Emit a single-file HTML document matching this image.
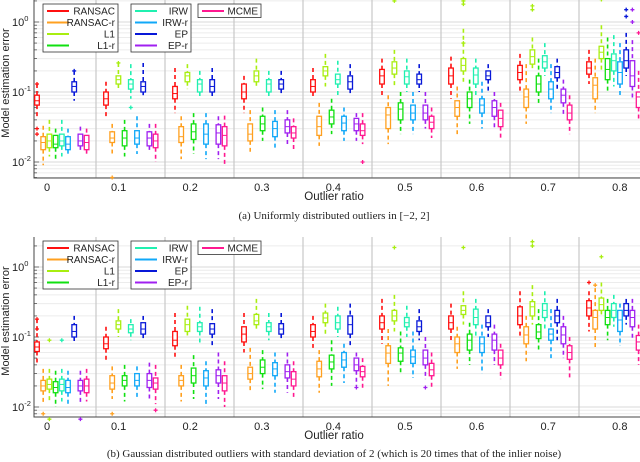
<!DOCTYPE html>
<html><head><meta charset="utf-8"><style>
body{margin:0;background:#fff}
svg{display:block;font-family:"Liberation Sans",sans-serif}
</style></head><body>
<svg id="c" width="640" height="462" viewBox="0 0 640 462"></svg>
<script>
const categories=["0","0.1","0.2","0.3","0.4","0.5","0.6","0.7","0.8"];
const methods=["RANSAC","RANSAC-r","L1","L1-r","IRW","IRW-r","EP","EP-r","MCME"];
const colors=["#ff1010","#ffa020","#a8ee10","#10e010","#20f0b0","#10a8f8","#0818d8","#a020f0","#ff1890"];
const yTicks=[0.01,0.1,1];
const yTickLabels=["10","10","10"];
const yTickExp=["-2","-1","0"];
// [median,q1,q3,whiskerLow,whiskerHigh] per group
const uniRANSAC=[[.075,.065,.09,.045,.13],[.08,.065,.1,.045,.14],[.095,.08,.12,.05,.22],[.1,.08,.13,.05,.17],[.12,.1,.15,.08,.22],[.17,.13,.21,.09,.3],[.17,.13,.22,.08,.32],[.19,.15,.24,.1,.35],[.22,.18,.27,.13,.4]];
const uniRANSACr=[[.019,.015,.023,.009,.033],[.022,.019,.027,.012,.035],[.023,.019,.032,.011,.045],[.025,.02,.035,.014,.055],[.032,.024,.045,.017,.07],[.047,.03,.06,.018,.09],[.06,.045,.075,.025,.12],[.085,.06,.11,.035,.25],[.125,.08,.16,.05,.3]];
const uniL1=[[.02,.016,.025,.012,.04],[.15,.13,.17,.11,.26],[.17,.14,.19,.11,.25],[.17,.14,.2,.12,.3],[.2,.17,.23,.12,.35],[.22,.18,.27,.12,.4],[.24,.2,.3,.14,.8],[.32,.25,.4,.2,.6],[.37,.3,.45,.2,.9]];
const uniL1r=[[.018,.016,.024,.011,.03],[.022,.017,.028,.012,.04],[.027,.021,.035,.013,.05],[.035,.028,.045,.02,.06],[.044,.035,.055,.025,.08],[.057,.04,.07,.025,.1],[.08,.06,.1,.035,.15],[.13,.1,.17,.07,.3],[.21,.15,.3,.1,.6]];
const uniIRW=[[.02,.017,.025,.012,.04],[.13,.11,.15,.08,.25],[.13,.1,.15,.08,.2],[.13,.1,.15,.08,.2],[.15,.13,.18,.09,.28],[.165,.13,.2,.1,.3],[.175,.13,.22,.09,.3],[.27,.22,.33,.17,.5],[.28,.2,.35,.12,.65]];
const uniIRWr=[[.018,.015,.023,.012,.03],[.022,.018,.028,.013,.045],[.025,.018,.035,.011,.05],[.03,.023,.038,.016,.055],[.036,.028,.045,.02,.06],[.05,.04,.065,.025,.1],[.065,.05,.08,.03,.14],[.11,.08,.14,.05,.25],[.19,.13,.27,.09,.5]];
const uniEP=[[.12,.1,.14,.075,.2],[.12,.1,.14,.09,.26],[.12,.1,.15,.08,.22],[.13,.11,.15,.09,.2],[.14,.11,.17,.09,.25],[.15,.13,.18,.1,.25],[.17,.15,.2,.1,.25],[.19,.16,.23,.11,.3],[.28,.22,.4,.17,.7]];
const uniEPr=[[.02,.017,.025,.014,.032],[.022,.017,.027,.014,.035],[.026,.018,.034,.011,.045],[.032,.026,.04,.017,.055],[.035,.028,.042,.02,.05],[.05,.04,.065,.03,.1],[.06,.045,.075,.03,.1],[.09,.07,.11,.045,.15],[.17,.12,.28,.08,.55]];
const uniMCME=[[.019,.015,.024,.012,.03],[.02,.016,.025,.01,.035],[.024,.017,.032,.009,.046],[.026,.022,.032,.015,.042],[.028,.024,.035,.018,.05],[.037,.03,.045,.022,.06],[.042,.032,.055,.022,.07],[.05,.04,.065,.025,.09],[.085,.06,.1,.04,.2]];
const uniOutliers=[[0,0,.13],[0,0,.03],[0,0,.025],[0,6,.2],[1,2,.26],[1,4,.06],[1,1,.006],[4,8,.01],[5,2,2.0],[6,2,2.0],[6,2,1.8],[6,2,.5],[7,2,2.2],[7,2,1.7],[7,2,1.5],[8,2,2.1],[8,6,1.5],[8,6,1.2],[8,7,1.5],[8,7,1.0],[8,8,.7]];

const gauRANSAC=[[.072,.062,.085,.04,.18],[.08,.068,.1,.045,.14],[.09,.075,.12,.05,.22],[.11,.085,.14,.06,.22],[.12,.1,.15,.07,.2],[.16,.13,.2,.08,.35],[.16,.13,.2,.09,.3],[.2,.15,.27,.1,.45],[.26,.2,.33,.12,.45]];
const gauRANSACr=[[.02,.017,.024,.011,.035],[.022,.018,.028,.013,.038],[.024,.02,.028,.012,.04],[.03,.025,.037,.016,.07],[.035,.027,.045,.016,.065],[.059,.042,.075,.02,.13],[.08,.06,.1,.035,.14],[.107,.08,.14,.045,.2],[.19,.13,.24,.07,.5]];
const gauL1=[[.021,.018,.025,.012,.035],[.15,.13,.17,.1,.25],[.15,.12,.18,.1,.28],[.17,.15,.21,.13,.35],[.187,.16,.22,.11,.3],[.2,.17,.24,.12,.4],[.24,.21,.28,.15,.45],[.27,.2,.32,.15,.55],[.29,.24,.36,.2,.6]];
const gauL1r=[[.019,.016,.023,.01,.033],[.024,.02,.028,.012,.04],[.028,.022,.036,.013,.055],[.037,.03,.047,.018,.065],[.044,.035,.055,.02,.09],[.059,.045,.07,.03,.12],[.09,.065,.11,.04,.16],[.118,.095,.15,.06,.25],[.19,.15,.24,.09,.35]];
const gauIRW=[[.021,.017,.025,.012,.035],[.13,.115,.15,.09,.18],[.14,.12,.16,.08,.27],[.14,.12,.16,.09,.22],[.16,.13,.2,.1,.27],[.16,.14,.19,.1,.28],[.19,.15,.25,.1,.35],[.24,.19,.3,.12,.45],[.24,.19,.3,.14,.4]];
const gauIRWr=[[.019,.016,.024,.011,.033],[.024,.02,.03,.013,.038],[.026,.02,.033,.01,.045],[.035,.028,.043,.016,.06],[.047,.037,.06,.022,.08],[.052,.042,.065,.026,.12],[.08,.06,.1,.03,.15],[.11,.09,.13,.05,.25],[.175,.12,.24,.075,.3]];
const gauEP=[[.12,.1,.15,.08,.2],[.13,.11,.16,.09,.2],[.13,.11,.155,.07,.25],[.13,.11,.155,.09,.22],[.15,.11,.2,.07,.3],[.14,.12,.17,.09,.25],[.16,.14,.2,.1,.25],[.2,.16,.24,.09,.35],[.24,.2,.3,.15,.35]];
const gauEPr=[[.02,.017,.024,.011,.033],[.024,.019,.03,.013,.043],[.028,.022,.034,.013,.06],[.032,.026,.04,.016,.06],[.04,.033,.05,.02,.06],[.05,.04,.065,.025,.1],[.09,.065,.11,.04,.15],[.107,.08,.14,.05,.2],[.19,.14,.24,.09,.35]];
const gauMCME=[[.02,.016,.025,.012,.035],[.022,.018,.026,.011,.04],[.022,.017,.028,.01,.045],[.025,.02,.032,.013,.045],[.032,.027,.038,.018,.05],[.034,.028,.042,.018,.06],[.05,.04,.065,.025,.08],[.06,.048,.075,.025,.1],[.085,.065,.105,.04,.15]];
const gauOutliers=[[0,0,.18],[0,0,.13],[0,2,.09],[0,4,.09],[0,1,.008],[0,2,.0067],[0,7,.0067],[1,1,.008],[1,8,.009],[5,2,1.9],[6,2,1.9],[7,2,2.3],[7,2,2.0],[8,0,.6],[8,1,.55],[8,2,1.4],[4,7,.019],[5,7,.019]];

const uniSeries=[uniRANSAC,uniRANSACr,uniL1,uniL1r,uniIRW,uniIRWr,uniEP,uniEPr,uniMCME];
const gauSeries=[gauRANSAC,gauRANSACr,gauL1,gauL1r,gauIRW,gauIRWr,gauEP,gauEPr,gauMCME];

const NS="http://www.w3.org/2000/svg";
const svg=document.getElementById('c');
function el(tag,attrs,parent,text){const e=document.createElementNS(NS,tag);for(const k in attrs)e.setAttribute(k,attrs[k]);if(text!==undefined)e.textContent=text;(parent||svg).appendChild(e);return e;}
const L=34,R=640,G0=27,GW=69,BOFF=10,BSP=6.2;
function xBox(g,m){return G0+g*GW+BOFF+m*BSP;}
function xLabel(g){return 47+g*71.6;}

function panel(name,top,bottom,y1,series,outliers,caption,capY,legendTop){
  const grp=el('g',{},svg);
  
  
  const dec=70;
  const y=v=>y1-Math.log10(v)*dec;
  for(let e=-3;e<=0;e++){for(let k=1;k<=9;k++){const v=k*Math.pow(10,e);const yy=y(v);if(yy<top||yy>bottom)continue;
    const gl=el('line',{x1:L,x2:R,y1:yy,y2:yy,stroke:k==1?'#d8d8d8':'#ececec','stroke-width':1},grp);
    
    const tk=el('line',{x1:L,x2:L+(k==1?5:3),y1:yy,y2:yy,stroke:'#555','stroke-width':0.8},grp);
    }}
  for(let g=1;g<categories.length;g++){const xx=G0+g*GW;
    const s=el('line',{x1:xx,x2:xx,y1:top,y2:bottom,stroke:'#c8c8c8','stroke-width':1.2},grp);
    }
  const ax=el('path',{d:`M${L},${top}V${bottom}H${R}`,fill:'none',stroke:'#444','stroke-width':1},grp);
  
  yTicks.forEach((v,i)=>{const yy=y(v);
    const t=el('text',{x:12,y:yy+4,'font-size':11,fill:'#222'},grp);
    
    el('tspan',{},t,yTickLabels[i]);el('tspan',{dy:-5,'font-size':7.5},t,yTickExp[i]);});
  const yt=el('text',{x:0,y:0,transform:`translate(9,${(top+bottom)/2-6}) rotate(-90)`,'text-anchor':'middle','font-size':11,fill:'#222'},grp,'Model estimation error');
  
  categories.forEach((c,g)=>{const t=el('text',{x:xLabel(g),y:bottom+13,'text-anchor':'middle','font-size':11,fill:'#222'},grp,c);
    });
  const xt=el('text',{x:334,y:bottom+22,'text-anchor':'middle','font-size':11.5,fill:'#222'},grp,'Outlier ratio');
  
  series.forEach((ser,m)=>{ser.forEach((d,g)=>{
    const [med,q1,q3,lo,hi]=d;const cx=xBox(g,m);const col=colors[m];
    const bg=el('g',{},grp);
    
    
    el('line',{x1:cx,x2:cx,y1:y(hi),y2:y(q3),stroke:col,'stroke-width':1.6,'stroke-dasharray':'4,3'},bg);
    el('line',{x1:cx,x2:cx,y1:y(q1),y2:y(lo),stroke:col,'stroke-width':1.6,'stroke-dasharray':'4,3'},bg);
    el('rect',{x:cx-2.3,y:y(q3),width:4.6,height:Math.max(1,y(q1)-y(q3)),fill:'#fff',stroke:col,'stroke-width':1.3},bg);
    el('line',{x1:cx-2.3,x2:cx+2.3,y1:y(med),y2:y(med),stroke:col,'stroke-width':1},bg);
  });});
  outliers.forEach(o=>{const [g,m,v]=o;const cx=xBox(g,m),yy=y(v);
    const p=el('path',{d:`M${cx-2},${yy}h4M${cx},${yy-2}v4`,stroke:colors[m],'stroke-width':1.3},grp);
    });
  const cols=[[0,1,2,3],[4,5,6,7],[8]];const boxes=[[43,118],[131,191],[198,261]];
  cols.forEach((ms,ci)=>{const [x0,x1]=boxes[ci];const h=ms.length*11.5+2;
    const lg=el('g',{},grp);
    el('rect',{x:x0,y:legendTop,width:x1-x0,height:h,fill:'#fff',stroke:'#333','stroke-width':0.8},lg);
    ms.forEach((m,i)=>{const yy=legendTop+7+i*11.5;
      const e=el('g',{},lg);
      el('line',{x1:x0+4,x2:x0+26,y1:yy,y2:yy,stroke:colors[m],'stroke-width':2},e);
      el('text',{x:x1-3,y:yy+3.5,'text-anchor':'end','font-size':10,fill:'#222'},e,methods[m]);});});
  const cp=el('text',{x:334,y:capY,'text-anchor':'middle','font-size':11,'font-family':'"Liberation Serif",serif',fill:'#222'},grp,caption);
  
}
panel('panel-uniform',0,178,22,uniSeries,uniOutliers,'(a) Uniformly distributed outliers in [\u22122, 2]',219,4);
panel('panel-gaussian',237,417,267,gauSeries,gauOutliers,'(b) Gaussian distributed outliers with standard deviation of 2 (which is 20 times that of the inlier noise)',457,241);
</script>
</body></html>
